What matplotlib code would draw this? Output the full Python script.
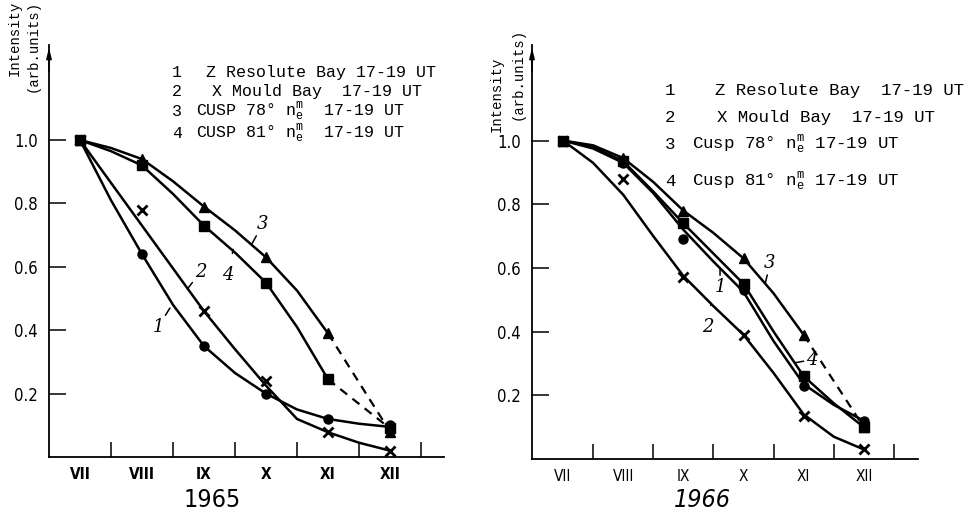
import numpy as np
import matplotlib.pyplot as plt

plt.rcParams['mathtext.fontset'] = 'custom'
plt.rcParams['mathtext.rm'] = 'Liberation Mono'

W, H = 979, 519

months = ['VII', 'VIII', 'IX', 'X', 'XI', 'XII']
month_idx = np.arange(len(months))
half_idx = np.arange(0, 5.01, 0.5)
yticks = [0.2, 0.4, 0.6, 0.8, 1.0]
ytick_labels = ['0.2', '0.4', '0.6', '0.8', '1.0']

# 1965 - measured points
z_res_65 = [1.0, 0.64, 0.35, 0.20, 0.12, 0.10]
x_mould_65 = [1.0, 0.78, 0.46, 0.24, 0.08, 0.02]
cusp78_65 = [1.0, 0.94, 0.79, 0.63, 0.39, 0.08]
cusp81_65 = [1.0, 0.92, 0.73, 0.55, 0.245, 0.09]
# 1965 - hand drawn curves, every half month
z_res_65_curve = [1.0, 0.81, 0.64, 0.48, 0.35, 0.265, 0.20, 0.15, 0.12, 0.105, 0.095]
x_mould_65_curve = [1.0, 0.865, 0.73, 0.595, 0.46, 0.34, 0.225, 0.12, 0.078, 0.045, 0.02]
cusp78_65_curve = [1.0, 0.975, 0.94, 0.87, 0.79, 0.715, 0.63, 0.525, 0.39]
cusp81_65_curve = [1.0, 0.965, 0.92, 0.83, 0.73, 0.645, 0.55, 0.41, 0.245]

# 1966 - measured points
z_res_66 = [1.0, 0.93, 0.69, 0.53, 0.23, 0.12]
x_mould_66 = [1.0, 0.88, 0.57, 0.39, 0.135, 0.03]
cusp78_66 = [1.0, 0.945, 0.78, 0.63, 0.39, 0.10]
cusp81_66 = [1.0, 0.935, 0.74, 0.55, 0.26, 0.10]
# 1966 - hand drawn curves
z_res_66_curve = [1.0, 0.975, 0.93, 0.835, 0.72, 0.62, 0.525, 0.37, 0.235, 0.17, 0.12]
x_mould_66_curve = [1.0, 0.93, 0.83, 0.70, 0.575, 0.48, 0.39, 0.27, 0.14, 0.07, 0.03]
cusp78_66_curve = [1.0, 0.985, 0.945, 0.87, 0.78, 0.71, 0.63, 0.52, 0.39]
cusp81_66_curve = [1.0, 0.98, 0.935, 0.84, 0.74, 0.645, 0.55, 0.40, 0.26, 0.175, 0.10]

legend_65 = ['Z Resolute Bay 17-19 UT', 'X Mould Bay  17-19 UT',
             r'CUSP 78° $\mathrm{n_e^m}$  17-19 UT', r'CUSP 81° $\mathrm{n_e^m}$  17-19 UT']
legend_66 = ['Z Resolute Bay  17-19 UT', 'X Mould Bay  17-19 UT',
             r'Cusp 78° $\mathrm{n_e^m}$ 17-19 UT', r'Cusp 81° $\mathrm{n_e^m}$ 17-19 UT']

NARROW = dict(family='DejaVu Sans', stretch='condensed')


def px(x, y):
    return x / W, 1 - y / H


def panel(rect, xlim, pts, curves, labels, mlab_bold):
    ax = fig.add_axes(rect)
    ax.set_xlim(*xlim)
    ax.set_ylim(0, 1.30)
    for s in ['top', 'right']:
        ax.spines[s].set_visible(False)
    ax.spines['left'].set_linewidth(1.3)
    ax.spines['bottom'].set_linewidth(1.3)
    ax.set_yticks(yticks)
    ax.set_yticklabels(ytick_labels, fontsize=12, **NARROW)
    ax.set_xticks(month_idx + 0.5)
    ax.set_xticklabels([])
    ax.tick_params(direction='in', length=12, width=1.1, pad=8)
    ax.tick_params(axis='x', length=11)
    for i, m in enumerate(months):
        ax.text(i, -0.032, m, ha='center', va='top', fontsize=11,
                fontweight='bold' if mlab_bold else 'normal', **NARROW)
    # arrow on the intensity axis
    ax.annotate('', xy=(0, 1.0), xytext=(0, 0.93), xycoords='axes fraction',
                arrowprops=dict(arrowstyle='-|>,head_width=0.15,head_length=0.6',
                                color='k', lw=1.2))

    (z, xm, c78, c81) = pts
    (zc, xc, c78c, c81c) = curves
    lw = 1.8
    ax.plot(half_idx, zc, color='k', lw=lw)
    ax.plot(half_idx, xc, color='k', lw=lw)
    ax.plot(half_idx[:len(c78c)], c78c, color='k', lw=lw)
    ax.plot(half_idx[:len(c81c)], c81c, color='k', lw=lw)
    if len(c78c) < len(half_idx):
        ax.plot(month_idx[4:], c78[4:], color='k', lw=1.6, ls=(0, (4, 3)))
    if len(c81c) < len(half_idx):
        ax.plot(month_idx[4:], c81[4:], color='k', lw=1.6, ls=(0, (4, 3)))

    ax.plot(month_idx, z, 'o', color='k', ms=6.5)
    ax.plot(month_idx, xm, 'x', color='k', ms=7, mew=2)
    ax.plot(month_idx, c78, '^', color='k', ms=7.5)
    ax.plot(month_idx, c81, 's', color='k', ms=6.5)

    for num, txt_xy, line_xy in labels:
        ax.annotate(num, xy=line_xy, xytext=txt_xy, fontsize=13, style='italic',
                    family='DejaVu Serif', ha='center', va='center',
                    arrowprops=dict(arrowstyle='-', color='k', lw=1.1,
                                    shrinkA=7, shrinkB=0))
    return ax


fig = plt.figure(figsize=(W / 100, H / 100), dpi=100)

# 1965
ax1 = panel([49 / W, 1 - 457 / H, 395 / W, 412 / H], (-0.5, 5.87),
            (z_res_65, x_mould_65, cusp78_65, cusp81_65),
            (z_res_65_curve, x_mould_65_curve, cusp78_65_curve, cusp81_65_curve),
            [('1', (1.26, 0.41), (1.45, 0.47)),
             ('2', (1.95, 0.585), (1.73, 0.53)),
             ('3', (2.95, 0.735), (2.77, 0.672)),
             ('4', (2.39, 0.575), (2.47, 0.655))],
            True)

# 1966
ax2 = panel([532 / W, 1 - 459 / H, 386 / W, 414 / H], (-0.515, 5.90),
            (z_res_66, x_mould_66, cusp78_66, cusp81_66),
            (z_res_66_curve, x_mould_66_curve, cusp78_66_curve, cusp81_66_curve),
            [('1', (2.61, 0.54), (2.61, 0.60)),
             ('2', (2.41, 0.415), (2.46, 0.49)),
             ('3', (3.44, 0.615), (3.36, 0.55)),
             ('4', (4.14, 0.312), (3.85, 0.302))],
            False)

# y-axis titles
for x0, y0, x1, y1 in [(15, 38, 33, 46), (497, 94, 518, 74)]:
    fig.text(*px(x0, y0), 'Intensity', rotation=90, ha='center', va='center',
             family='Liberation Mono', fontsize=10)
    fig.text(*px(x1, y1), '(arb.units)', rotation=90, ha='center', va='center',
             family='Liberation Mono', fontsize=10)

# key texts
for i, (yb, tx) in enumerate(zip([77, 96, 116, 138], [206, 212, 196, 196])):
    fig.text(*px(172, yb), str(i + 1), family='Liberation Mono', fontsize=12, va='baseline')
    fig.text(*px(tx, yb), legend_65[i], family='Liberation Mono', fontsize=12, va='baseline')
for i, (yb, tx) in enumerate(zip([95, 122, 149, 186], [715, 717, 692, 692])):
    fig.text(*px(665, yb), str(i + 1), family='Liberation Mono', fontsize=12.5, va='baseline')
    fig.text(*px(tx, yb), legend_66[i], family='Liberation Mono', fontsize=12.5, va='baseline')

fig.text(*px(212, 500), '1965', ha='center', va='center', fontsize=18, **NARROW)
fig.text(*px(702, 500), '1966', ha='center', va='center', fontsize=18,
         style='italic', **NARROW)

fig.savefig('out.png', dpi=100)
